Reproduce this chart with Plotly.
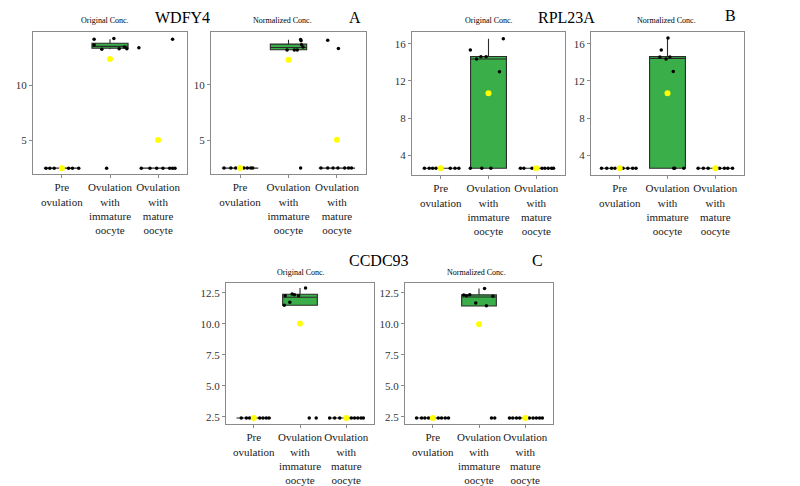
import plotly.graph_objects as go

FONT = "Liberation Serif"
W, H = 800, 486

CATEGORIES = ["Pre<br>ovulation",
              "Ovulation<br>with<br>immature<br>oocyte",
              "Ovulation<br>with<br>mature<br>oocyte"]

# ---------------- WDFY4 (A) ----------------
wdfy4_orig_pre_y = [2.5, 2.5, 2.5, 2.5, 2.5, 2.5, 2.5]
wdfy4_orig_pre_jit = [-0.33, -0.25, -0.16, 0.0, 0.14, 0.22, 0.35]
wdfy4_orig_imm_y = [14.19, 14.25, 13.28, 13.67, 13.34, 13.34, 13.5, 2.5]
wdfy4_orig_imm_jit = [-0.33, 0.08, -0.17, -0.33, 0.19, 0.35, 0.3, -0.07]
wdfy4_orig_mat_y = [13.43, 14.19, 2.5, 2.5, 2.5, 2.5, 2.5, 2.5, 2.5]
wdfy4_orig_mat_jit = [-0.40, 0.30, -0.35, -0.17, -0.03, 0.1, 0.24, 0.3, 0.35]
wdfy4_orig_box = dict(q1=[2.5, 13.38, 2.5], median=[2.5, 13.55, 2.5], q3=[2.5, 13.83, 2.5],
                      lowerfence=[2.5, 13.28, 2.5], upperfence=[2.5, 14.2, 2.5])
wdfy4_orig_mean = [2.5, 12.41, 5.06]

wdfy4_norm_pre_y = [2.5, 2.5, 2.5, 2.5, 2.5, 2.5, 2.5]
wdfy4_norm_pre_jit = [-0.33, -0.19, -0.09, 0.08, 0.15, 0.22, 0.26]
wdfy4_norm_imm_y = [13.13, 13.13, 13.13, 14.08, 13.96, 13.6, 13.4, 2.5]
wdfy4_norm_imm_jit = [-0.03, 0.12, 0.18, 0.25, 0.26, 0.27, 0.30, 0.25]
wdfy4_norm_mat_y = [14.0, 13.27, 2.5, 2.5, 2.5, 2.5, 2.5, 2.5, 2.5]
wdfy4_norm_mat_jit = [-0.19, 0.03, -0.33, -0.19, -0.08, 0.02, 0.16, 0.24, 0.30]
wdfy4_norm_box = dict(q1=[2.5, 13.15, 2.5], median=[2.5, 13.36, 2.5], q3=[2.5, 13.66, 2.5],
                      lowerfence=[2.5, 13.13, 2.5], upperfence=[2.5, 14.05, 2.5])
wdfy4_norm_mean = [2.5, 12.26, 5.06]

# ---------------- RPL23A (B) ----------------
rpl23a_orig_pre_y = [2.6, 2.6, 2.6, 2.6, 2.6, 2.6, 2.6]
rpl23a_orig_pre_jit = [-0.34, -0.24, -0.17, -0.10, 0.20, 0.30, 0.38]
rpl23a_orig_imm_y = [15.32, 14.35, 14.6, 14.6, 16.54, 12.98, 2.6, 2.6, 2.6]
rpl23a_orig_imm_jit = [-0.38, -0.25, -0.16, -0.05, 0.31, 0.23, -0.38, -0.14, 0.05]
rpl23a_orig_mat_y = [2.6, 2.6, 2.6, 2.6, 2.6, 2.6, 2.6, 2.6]
rpl23a_orig_mat_jit = [-0.33, -0.26, -0.09, 0.12, 0.18, 0.25, 0.32, 0.36]
rpl23a_orig_box = dict(q1=[2.6, 2.6, 2.6], median=[2.6, 14.35, 2.6], q3=[2.6, 14.63, 2.6],
                       lowerfence=[2.6, 2.6, 2.6], upperfence=[2.6, 16.54, 2.6])
rpl23a_orig_mean = [2.6, 10.68, 2.6]

rpl23a_norm_pre_y = [2.6, 2.6, 2.6, 2.6, 2.6, 2.6, 2.6, 2.6]
rpl23a_norm_pre_jit = [-0.38, -0.27, -0.17, -0.10, 0.07, 0.17, 0.27, 0.34]
rpl23a_norm_imm_y = [16.61, 15.32, 14.56, 14.35, 14.56, 13.02, 2.6, 2.6, 2.6]
rpl23a_norm_imm_jit = [0.01, -0.13, -0.16, -0.03, 0.05, 0.12, 0.13, 0.15, 0.34]
rpl23a_norm_mat_y = [2.6, 2.6, 2.6, 2.6, 2.6, 2.6, 2.6]
rpl23a_norm_mat_jit = [-0.36, -0.25, -0.15, 0.09, 0.19, 0.26, 0.36]
rpl23a_norm_box = dict(q1=[2.6, 2.6, 2.6], median=[2.6, 14.42, 2.6], q3=[2.6, 14.63, 2.6],
                       lowerfence=[2.6, 2.6, 2.6], upperfence=[2.6, 16.61, 2.6])
rpl23a_norm_mean = [2.6, 10.68, 2.6]

# ---------------- CCDC93 (C) ----------------
ccdc93_orig_pre_y = [2.4, 2.4, 2.4, 2.4, 2.4, 2.4, 2.4]
ccdc93_orig_pre_jit = [-0.27, -0.16, -0.09, 0.13, 0.20, 0.27, 0.33]
ccdc93_orig_imm_y = [11.5, 12.28, 12.42, 12.36, 12.28, 11.74, 12.9, 2.4, 2.4]
ccdc93_orig_imm_jit = [-0.34, -0.32, -0.17, -0.12, -0.03, -0.22, 0.12, 0.20, 0.35]
ccdc93_orig_mat_y = [2.4, 2.4, 2.4, 2.4, 2.4, 2.4, 2.4, 2.4]
ccdc93_orig_mat_jit = [-0.36, -0.25, -0.14, 0.11, 0.18, 0.25, 0.32, 0.37]
ccdc93_orig_box = dict(q1=[2.4, 11.5, 2.4], median=[2.4, 12.15, 2.4], q3=[2.4, 12.39, 2.4],
                       lowerfence=[2.4, 11.5, 2.4], upperfence=[2.4, 12.9, 2.4])
ccdc93_orig_mean = [2.4, 10.03, 2.4]

ccdc93_norm_pre_y = [2.4, 2.4, 2.4, 2.4, 2.4, 2.4, 2.4, 2.4]
ccdc93_norm_pre_jit = [-0.35, -0.24, -0.17, -0.09, 0.12, 0.19, 0.27, 0.34]
ccdc93_norm_imm_y = [12.34, 12.28, 12.36, 11.68, 12.85, 11.47, 12.23, 2.4, 2.4]
ccdc93_norm_imm_jit = [-0.33, -0.27, -0.20, -0.07, 0.12, 0.16, 0.30, 0.27, 0.34]
ccdc93_norm_mat_y = [2.4, 2.4, 2.4, 2.4, 2.4, 2.4, 2.4, 2.4, 2.4]
ccdc93_norm_mat_jit = [-0.34, -0.27, -0.19, -0.12, 0.09, 0.17, 0.24, 0.31, 0.37]
ccdc93_norm_box = dict(q1=[2.4, 11.44, 2.4], median=[2.4, 12.17, 2.4], q3=[2.4, 12.34, 2.4],
                       lowerfence=[2.4, 11.44, 2.4], upperfence=[2.4, 12.85, 2.4])
ccdc93_norm_mean = [2.4, 9.97, 2.4]

# y-axis tick values per gene
WDFY4_TICKS = [5, 10]
RPL23A_TICKS = [4, 8, 12, 16]
CCDC93_TICKS = [2.5, 5.0, 7.5, 10.0, 12.5]

# panel frames in pixels: (left, right, top, bottom)
panels = [
    dict(frame=(33, 187, 32, 174), yrange=[1.97, 14.85], ticks=WDFY4_TICKS, fmt="d",
         groups=[(wdfy4_orig_pre_y, wdfy4_orig_pre_jit), (wdfy4_orig_imm_y, wdfy4_orig_imm_jit),
                 (wdfy4_orig_mat_y, wdfy4_orig_mat_jit)], box=wdfy4_orig_box, mean=wdfy4_orig_mean),
    dict(frame=(211, 366, 32, 174), yrange=[1.97, 14.75], ticks=WDFY4_TICKS, fmt="d",
         groups=[(wdfy4_norm_pre_y, wdfy4_norm_pre_jit), (wdfy4_norm_imm_y, wdfy4_norm_imm_jit),
                 (wdfy4_norm_mat_y, wdfy4_norm_mat_jit)], box=wdfy4_norm_box, mean=wdfy4_norm_mean),
    dict(frame=(412, 565, 32, 175), yrange=[1.88, 17.26], ticks=RPL23A_TICKS, fmt="d",
         groups=[(rpl23a_orig_pre_y, rpl23a_orig_pre_jit), (rpl23a_orig_imm_y, rpl23a_orig_imm_jit),
                 (rpl23a_orig_mat_y, rpl23a_orig_mat_jit)], box=rpl23a_orig_box, mean=rpl23a_orig_mean),
    dict(frame=(591, 744, 32, 175), yrange=[1.88, 17.26], ticks=RPL23A_TICKS, fmt="d",
         groups=[(rpl23a_norm_pre_y, rpl23a_norm_pre_jit), (rpl23a_norm_imm_y, rpl23a_norm_imm_jit),
                 (rpl23a_norm_mat_y, rpl23a_norm_mat_jit)], box=rpl23a_norm_box, mean=rpl23a_norm_mean),
    dict(frame=(226, 374, 283, 424), yrange=[1.91, 13.3], ticks=CCDC93_TICKS, fmt=".1f",
         groups=[(ccdc93_orig_pre_y, ccdc93_orig_pre_jit), (ccdc93_orig_imm_y, ccdc93_orig_imm_jit),
                 (ccdc93_orig_mat_y, ccdc93_orig_mat_jit)], box=ccdc93_orig_box, mean=ccdc93_orig_mean),
    dict(frame=(405, 553, 283, 424), yrange=[1.91, 13.3], ticks=CCDC93_TICKS, fmt=".1f",
         groups=[(ccdc93_norm_pre_y, ccdc93_norm_pre_jit), (ccdc93_norm_imm_y, ccdc93_norm_imm_jit),
                 (ccdc93_norm_mat_y, ccdc93_norm_mat_jit)], box=ccdc93_norm_box, mean=ccdc93_norm_mean),
]

GREEN = "#3AAE48"
FRAME = "#8a8a8a"
BOXLINE = "#2b2b2b"

fig = go.Figure()
layout = {}
for i, p in enumerate(panels):
    n = "" if i == 0 else str(i + 1)
    xa, ya = "x" + n, "y" + n
    l, r, t, b = p["frame"]
    layout["xaxis" + n] = dict(
        domain=[l / W, r / W], anchor=ya, range=[-0.6, 2.6], tickangle=0,
        tickvals=[0, 1, 2], ticktext=CATEGORIES, ticks="outside", ticklen=3, tickcolor=FRAME,
        showline=True, mirror=True, linecolor=FRAME, linewidth=1, showgrid=False, zeroline=False,
        tickfont=dict(family=FONT, size=11, color="#1a1a1a"), fixedrange=True)
    layout["yaxis" + n] = dict(
        domain=[1 - b / H, 1 - t / H], anchor=xa, range=p["yrange"],
        tickvals=p["ticks"], tickformat=p["fmt"], ticks="outside", ticklen=3, tickcolor=FRAME,
        showline=True, mirror=True, linecolor=FRAME, linewidth=1, showgrid=False, zeroline=False,
        tickfont=dict(family=FONT, size=11, color="#333333"), fixedrange=True)
    bx = p["box"]
    fills = ["rgba(0,0,0,0)", GREEN, "rgba(0,0,0,0)"]
    for g in range(3):
        fig.add_trace(go.Box(
            x=[g], q1=[bx["q1"][g]], median=[bx["median"][g]], q3=[bx["q3"][g]],
            lowerfence=[bx["lowerfence"][g]], upperfence=[bx["upperfence"][g]],
            width=0.75, whiskerwidth=0, fillcolor=fills[g], boxpoints=False,
            line=dict(color=BOXLINE, width=1.1), xaxis=xa, yaxis=ya, showlegend=False,
            hoverinfo="skip"))
    for g, (vals, jit) in enumerate(p["groups"]):
        fig.add_trace(go.Scatter(
            x=[g + j for j in jit], y=vals, mode="markers",
            marker=dict(color="black", size=3.5), xaxis=xa, yaxis=ya, showlegend=False))
    fig.add_trace(go.Scatter(
        x=[0, 1, 2], y=p["mean"], mode="markers",
        marker=dict(color="#FFFF00", size=6), xaxis=xa, yaxis=ya, showlegend=False))

def ann(text, x, y, size):
    return dict(text=text, x=x / W, y=1 - y / H, xref="paper", yref="paper",
                showarrow=False, xanchor="center", yanchor="middle",
                font=dict(family=FONT, size=size, color="black"))

annotations = [
    ann("WDFY4", 182, 18, 16), ann("A", 355, 17, 16),
    ann("RPL23A", 566, 18, 16), ann("B", 730, 16, 16),
    ann("CCDC93", 379, 260, 16), ann("C", 537, 260, 16),
    ann("Original Conc.", 105, 21, 8), ann("Normalized Conc.", 282, 21, 8),
    ann("Original Conc.", 489, 21, 8), ann("Normalized Conc.", 666, 21, 8),
    ann("Original Conc.", 301, 272, 8), ann("Normalized Conc.", 476, 272, 8),
]

fig.update_layout(
    width=W, height=H, margin=dict(l=0, r=0, t=0, b=0),
    paper_bgcolor="white", plot_bgcolor="white", showlegend=False,
    annotations=annotations, **layout)

fig.write_html("out.html")
